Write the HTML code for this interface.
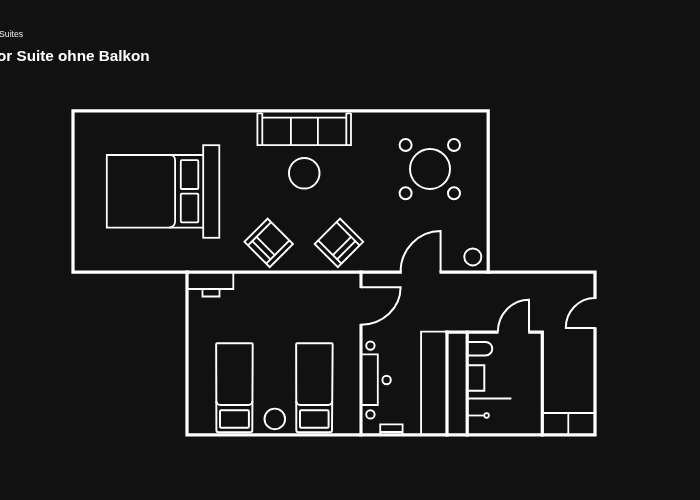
<!DOCTYPE html>
<html>
<head>
<meta charset="utf-8">
<title>Suite ohne Balkon</title>
<style>
html,body{margin:0;padding:0;background:#111111;}
body{width:700px;height:500px;overflow:hidden;position:relative;font-family:"Liberation Sans",sans-serif;}
.crumb{will-change:transform;position:absolute;left:-0.7px;top:29.3px;font-size:8.7px;line-height:10px;color:#eee;white-space:nowrap;}
.title{will-change:transform;position:absolute;left:-3.5px;top:46.8px;font-size:15.25px;line-height:18px;font-weight:bold;color:#fff;white-space:nowrap;}
svg{position:absolute;left:0;top:0;}
</style>
</head>
<body>
<div class="crumb">Suites</div>
<div class="title">or Suite ohne Balkon</div>
<svg width="700" height="500" viewBox="0 0 700 500" fill="none" stroke="#fff">
  <!-- walls -->
  <g stroke-width="3.25" stroke-linecap="square" stroke-linejoin="miter">
    <path d="M400.2,272 H73 V110.9 H488.2 V272"/>
    <path d="M441.1,272.1 H595 V297.3"/>
    <path d="M595,328.8 V434.9 H187 V272"/>
    <path d="M361,272 V286.6" stroke-width="3.1"/>
    <path d="M361,325.4 V434.9" stroke-width="3.1"/>
    <path d="M447,332.2 H496.8"/>
    <path d="M529.8,332.2 H542.3 V434.9"/>
    <path d="M447,332.2 V434.9"/>
    <path d="M467.2,332.2 V434.9"/>
  </g>
  <!-- thin lines -->
  <g stroke-width="1.8" stroke-linecap="butt" stroke-linejoin="miter">
    <!-- wardrobe left -->
    <path d="M447,331.6 H421.1 V434.9" stroke-width="1.85"/>
    <!-- doors -->
    <g stroke-width="2">
    <path d="M440.6,272 V231 A40 41 0 0 0 400.6,272"/>
    <path d="M361,287.3 H400.6 A39.6 37.4 0 0 1 361,324.7"/>
    <path d="M529,332 V299.8 A31.2 32.4 0 0 0 497.8,332.2"/>
    <path d="M595,327.9 H565.8 A29.1 29.9 0 0 1 594.9,298"/>
    </g>
    <!-- double bed -->
    <path d="M203,155 H106.8 V227.6 H203"/>
    <path d="M170.1,155 A5 5 0 0 1 175.1,160 V221.6 A6 6 0 0 1 169.1,227.6"/>
    <rect x="180.8" y="160.2" width="17.5" height="28.8" rx="1"/>
    <rect x="180.8" y="193.6" width="17.5" height="28.7" rx="1"/>
    <rect x="203.2" y="145.2" width="16.1" height="92.6"/>
    <!-- sofa -->
    <path d="M257.4,113 V145.2 H351 V113"/>
    <path d="M262.3,113 V145.2 M346.3,113 V145.2"/>
    <path d="M262.3,117.6 H346.3"/>
    <path d="M257.4,113.4 H262.3 M346.3,113.4 H351"/>
    <path d="M290.9,117.6 V145.2 M317.9,117.6 V145.2"/>
    <!-- coffee table -->
    <circle cx="304.25" cy="173.25" r="15.3" stroke-width="1.95"/>
    <!-- armchairs -->
    <g transform="translate(268.8,242.8) rotate(45)" stroke-width="1.9">
      <rect x="-17.93" y="-16.23" width="35.86" height="32.8"/>
      <path d="M-12.9,-16.23 V16.57 M12.9,-16.23 V16.57"/>
      <path d="M-12.9,10.45 H12.9 M-12.9,4.5 H12.9"/>
    </g>
    <g transform="translate(338.8,242.8) rotate(-45)" stroke-width="1.9">
      <rect x="-17.93" y="-16.23" width="35.86" height="32.8"/>
      <path d="M-12.9,-16.23 V16.57 M12.9,-16.23 V16.57"/>
      <path d="M-12.9,10.45 H12.9 M-12.9,4.5 H12.9"/>
    </g>
    <!-- dining -->
    <circle cx="430" cy="169" r="20" stroke-width="1.95"/>
    <circle cx="405.6" cy="145" r="6" stroke-width="1.95"/>
    <circle cx="454" cy="145" r="6" stroke-width="1.95"/>
    <circle cx="405.6" cy="193.2" r="6" stroke-width="1.95"/>
    <circle cx="454" cy="193.2" r="6" stroke-width="1.95"/>
    <!-- lamp -->
    <circle cx="472.8" cy="256.9" r="8.5" stroke-width="1.95"/>
    <!-- tv cabinet -->
    <path d="M233.3,272 V289 H187"/>
    <path d="M202.5,289 V296.5 H219.5 V289"/>
    <!-- twin beds -->
    <g stroke-width="1.95">
    <path d="M216.4,430.3 L216.15,344.2 A1 1 0 0 1 217.15,343.2 H251.7 A1 1 0 0 1 252.7,344.2 L252.3,430.3 A2 2 0 0 1 250.3,432.3 H218.4 A2 2 0 0 1 216.4,430.3 Z"/>
    <path d="M216.32,401.0 A4 4 0 0 0 220.32,405.0 H248.42 A4 4 0 0 0 252.42,401.0"/>
    <rect x="220" y="410.3" width="28.9" height="17.4" rx="1.2"/>
    <path d="M296.3,430.3 L296.15,344.2 A1 1 0 0 1 297.15,343.2 H331.65 A1 1 0 0 1 332.65,344.2 L332.0,430.3 A2 2 0 0 1 330.0,432.3 H298.3 A2 2 0 0 1 296.3,430.3 Z"/>
    <path d="M296.25,401.0 A4 4 0 0 0 300.25,405.0 H328.20 A4 4 0 0 0 332.20,401.0"/>
    <rect x="300.0" y="410.3" width="28.6" height="17.4" rx="1.2"/>
    </g>
    <circle cx="274.8" cy="418.9" r="10.3" stroke-width="1.95"/>
    <!-- hall desk -->
    <path d="M361,354.4 H377.8 V405 H361"/>
    <circle cx="370.4" cy="345.6" r="4.2" stroke-width="1.95"/>
    <circle cx="386.6" cy="380" r="4.2" stroke-width="1.95"/>
    <circle cx="370.4" cy="414.4" r="4.2" stroke-width="1.95"/>
    <path d="M380.2,434 V424.4 H402.6 V434 M380.2,432 H402.6"/>
    <!-- bathroom -->
    <g stroke-width="2">
    <path d="M467,341.9 H485.5 A6.75 6.75 0 0 1 485.5,355.4 H467"/>
    <path d="M467,365.3 H484.3 V390.7 H467"/>
    <path d="M467,398.4 H511.4"/>
    </g>
    <path d="M467,415.5 H484.4" stroke-width="1.8"/>
    <circle cx="486.6" cy="415.5" r="2.3" stroke-width="1.7"/>
    <!-- closet -->
    <path d="M542.3,413 H595"/>
    <path d="M568.3,413 V434.9"/>
  </g>
</svg>
</body>
</html>
